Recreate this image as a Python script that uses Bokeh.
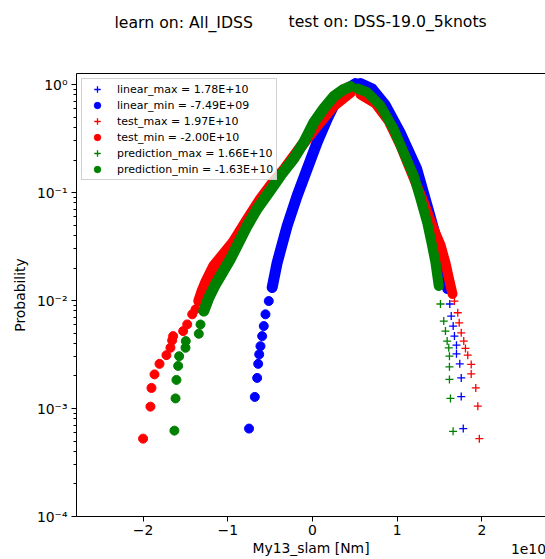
from bokeh.plotting import figure
from bokeh.models import (Range1d, FixedTicker, CustomJSTickFormatter, LinearAxis,
                          Legend, LegendItem, Label)
from bokeh.embed import file_html
from bokeh.resources import INLINE

# ---------------- texts ----------------
TITLE_LEFT = "learn on: All_IDSS"
TITLE_RIGHT = "test on: DSS-19.0_5knots"
X_LABEL = "My13_slam [Nm]"
Y_LABEL = "Probability"
X_OFFSET_TEXT = "1e10"
X_TICKS = [-2, -1, 0, 1, 2]
Y_TICKS = [1e-4, 1e-3, 1e-2, 1e-1, 1.0]
LEGEND_LABELS = [
    "linear_max = 1.78E+10",
    "linear_min = -7.49E+09",
    "test_max = 1.97E+10",
    "test_min = -2.00E+10",
    "prediction_max = 1.66E+10",
    "prediction_min = -1.63E+10",
]

# ---------------- data (x in units of 1e10 Nm) ----------------
# linear_max (blue +)
linear_max_band_x = [0.567, 0.708, 0.862, 1.039, 1.236, 1.393, 1.511, 1.590]
linear_max_band_y = [1.033, 0.918, 0.652, 0.361, 0.166, 0.0608, 0.0278, 0.0128]
linear_max_tail_x = [1.621, 1.638, 1.661, 1.676, 1.700, 1.700, 1.739, 1.756, 1.756, 1.78]
linear_max_tail_y = [9.28e-3, 7.18e-3, 5.80e-3, 4.68e-3, 3.86e-3, 3.21e-3, 2.59e-3, 1.92e-3, 1.29e-3, 6.52e-4]

# linear_min (blue o)
linear_min_tail_x = [-0.749, -0.681, -0.653, -0.641, -0.629, -0.614, -0.594, -0.575, -0.555, -0.516]
linear_min_tail_y = [6.52e-4, 1.28e-3, 1.92e-3, 2.59e-3, 3.17e-3, 3.78e-3, 4.68e-3, 5.80e-3, 7.45e-3, 9.89e-3]
linear_min_band_x = [-0.476, -0.417, -0.299, -0.181, -0.063, 0.055, 0.174, 0.251, 0.410, 0.508]
linear_min_band_y = [0.0132, 0.0224, 0.0491, 0.0933, 0.165, 0.291, 0.481, 0.638, 0.912, 1.02]

# test_max (red +)
test_max_band_x = [0.567, 0.744, 0.897, 1.039, 1.169, 1.314, 1.432, 1.511, 1.570, 1.617, 1.653]
test_max_band_y = [0.808, 0.666, 0.463, 0.272, 0.153, 0.0808, 0.0458, 0.0327, 0.0223, 0.0152, 0.0115]
test_max_tail_x = [1.676, 1.715, 1.732, 1.756, 1.786, 1.806, 1.833, 1.874, 1.874, 1.928, 1.952, 1.97]
test_max_tail_y = [9.89e-3, 7.70e-3, 6.22e-3, 5.02e-3, 4.21e-3, 3.60e-3, 3.12e-3, 2.56e-3, 2.09e-3, 1.55e-3, 1.05e-3, 5.26e-4]

# test_min (red o)
test_min_tail_x = [-2.00, -1.913, -1.901, -1.865, -1.806, -1.724, -1.677, -1.657, -1.645, -1.527, -1.479, -1.420, -1.381]
test_min_tail_y = [5.26e-4, 1.04e-3, 1.55e-3, 2.07e-3, 2.59e-3, 3.12e-3, 3.65e-3, 4.27e-3, 4.68e-3, 5.21e-3, 6.01e-3, 7.45e-3, 8.28e-3]
test_min_band_x = [-1.342, -1.302, -1.263, -1.165, -0.939, -0.767, -0.614, -0.466, -0.331, -0.142, 0.055, 0.251, 0.449]
test_min_band_y = [9.89e-3, 0.0123, 0.0146, 0.0209, 0.0344, 0.0567, 0.0869, 0.124, 0.165, 0.262, 0.416, 0.638, 0.848]

# prediction_max (green +)
prediction_max_band_x = [0.531, 0.646, 0.802, 0.959, 1.077, 1.196, 1.275, 1.354, 1.413, 1.452, 1.491]
prediction_max_band_y = [0.918, 0.848, 0.638, 0.388, 0.235, 0.143, 0.0875, 0.0527, 0.0320, 0.0224, 0.0136]
prediction_max_tail_x = [1.511, 1.550, 1.570, 1.590, 1.609, 1.617, 1.617, 1.617, 1.629, 1.66]
prediction_max_tail_y = [9.28e-3, 6.45e-3, 5.21e-3, 4.21e-3, 3.65e-3, 3.05e-3, 2.43e-3, 1.86e-3, 1.24e-3, 6.15e-4]

# prediction_min (green o)
prediction_min_tail_x = [-1.63, -1.617, -1.606, -1.586, -1.574, -1.499, -1.496, -1.342, -1.322]
prediction_min_tail_y = [6.24e-4, 1.24e-3, 1.84e-3, 2.48e-3, 3.05e-3, 3.65e-3, 4.21e-3, 4.92e-3, 6.0e-3]
prediction_min_band_x = [-1.283, -1.224, -1.145, -0.968, -0.771, -0.653, -0.516, -0.378, -0.221, -0.103, 0.015, 0.133, 0.251, 0.366, 0.449]
prediction_min_band_y = [7.99e-3, 0.0106, 0.0141, 0.0243, 0.0491, 0.0707, 0.100, 0.143, 0.206, 0.291, 0.444, 0.599, 0.774, 0.899, 0.958]

FONT = "DejaVu Sans"

p = figure(width=545, height=559,
           x_range=Range1d(-2.786, 2.751), y_range=Range1d(1e-4, 1.265),
           y_axis_type="log", title=None,
           output_backend="svg", toolbar_location=None,
           min_border_left=76, min_border_right=0, min_border_top=73, min_border_bottom=43)
p.outline_line_color = None
p.xgrid.visible = False
p.ygrid.visible = False
p.background_fill_color = "white"
p.border_fill_color = "white"

# axes
for ax in (p.xaxis[0], p.yaxis[0]):
    ax.axis_line_color = "black"
    ax.major_tick_line_color = "black"
    ax.minor_tick_line_color = "black"
    ax.major_tick_in = 0
    ax.major_tick_out = 5
    ax.minor_tick_in = 0
    ax.minor_tick_out = 3
    ax.major_label_text_font = FONT
    ax.major_label_text_font_size = "13.9px"
    ax.major_label_text_color = "black"
    ax.axis_label_text_font = FONT
    ax.axis_label_text_font_size = "13.9px"
    ax.axis_label_text_font_style = "normal"
    ax.axis_label_text_color = "black"

p.xaxis.axis_label = X_LABEL
p.yaxis.axis_label = Y_LABEL
p.xaxis.ticker = FixedTicker(ticks=X_TICKS)
p.xaxis.formatter = CustomJSTickFormatter(
    code="return tick < 0 ? '\\u2212' + Math.abs(tick) : String(tick);")
p.xaxis.major_label_standoff = 3
p.xaxis.axis_label_standoff = 2

y_minor = [m * t for t in Y_TICKS[:-1] for m in range(2, 10)]
p.yaxis.ticker = FixedTicker(ticks=Y_TICKS, minor_ticks=y_minor)
p.yaxis.formatter = CustomJSTickFormatter(code="""
const e = Math.round(Math.log10(tick));
const sup = {'0':'\\u2070','1':'\\u00b9','2':'\\u00b2','3':'\\u00b3','4':'\\u2074','-':'\\u207b'};
return '10' + String(e).split('').map(c => sup[c]).join('');
""")
p.yaxis.major_label_standoff = 4
p.yaxis.axis_label_standoff = 6

top_axis = LinearAxis(ticker=FixedTicker(ticks=[]), axis_line_color="black",
                      major_tick_in=0, major_tick_out=0, minor_tick_in=0, minor_tick_out=0,
                      major_label_text_font_size="0px")
p.add_layout(top_axis, "above")

BLUE, RED, GREEN = "#0000ff", "#ff0000", "#008000"

series = [
    (LEGEND_LABELS[0], BLUE, "cross", linear_max_band_x, linear_max_band_y, linear_max_tail_x, linear_max_tail_y),
    (LEGEND_LABELS[1], BLUE, "circle", linear_min_band_x, linear_min_band_y, linear_min_tail_x, linear_min_tail_y),
    (LEGEND_LABELS[2], RED, "cross", test_max_band_x, test_max_band_y, test_max_tail_x, test_max_tail_y),
    (LEGEND_LABELS[3], RED, "circle", test_min_band_x, test_min_band_y, test_min_tail_x, test_min_tail_y),
    (LEGEND_LABELS[4], GREEN, "cross", prediction_max_band_x, prediction_max_band_y, prediction_max_tail_x, prediction_max_tail_y),
    (LEGEND_LABELS[5], GREEN, "circle", prediction_min_band_x, prediction_min_band_y, prediction_min_tail_x, prediction_min_tail_y),
]

items = []
for label, color, marker, bx, by, tx, ty in series:
    lw = 11 if marker == "circle" else 10
    p.line(bx, by, line_color=color, line_width=lw, line_join="round", line_cap="round")
    if marker == "circle":
        r = p.scatter(bx + tx, by + ty, marker="circle", size=9, fill_color=color, line_color=color)
    else:
        r = p.scatter(bx + tx, by + ty, marker="cross", size=8, line_color=color, line_width=1.3)
    items.append(LegendItem(label=label, renderers=[r]))

legend = Legend(items=items, location="top_left", margin=5, padding=2, spacing=0,
                label_height=16, glyph_height=16, glyph_width=26, label_standoff=7,
                label_width=157, label_text_font=FONT, label_text_font_size="11px",
                label_text_color="black",
                border_line_color="#cccccc", border_line_alpha=0.9,
                background_fill_color="white", background_fill_alpha=0.8)
p.add_layout(legend)

# texts outside the frame: placed in the (roomy) top panel, positioned relative to it
p.add_layout(Label(x=452, y=-475, x_units="screen", y_units="screen", text=X_OFFSET_TEXT,
                   text_font=FONT, text_font_size="13.9px", text_align="center",
                   text_baseline="middle", text_color="black"), "above")
p.add_layout(Label(x=38, y=41, x_units="screen", y_units="screen", text=TITLE_LEFT,
                   text_font=FONT, text_font_size="15.7px", text_align="left",
                   text_baseline="middle", text_color="black"), "above")
p.add_layout(Label(x=212, y=23, x_units="screen", y_units="screen", text=TITLE_RIGHT,
                   text_font=FONT, text_font_size="15.7px", text_align="left",
                   text_baseline="middle", text_color="black"), "above")

open("out.html", "w").write(file_html(p, INLINE))
